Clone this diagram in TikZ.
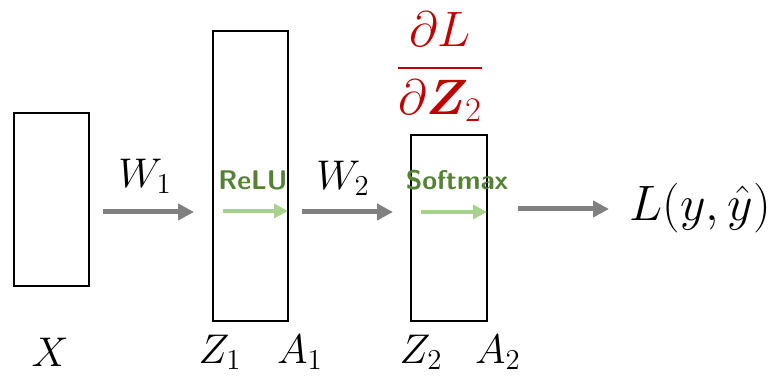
\documentclass[tikz,border=0pt]{standalone}
\usepackage{amsmath}
\usepackage{bm}
\usetikzlibrary{arrows.meta}
\definecolor{gradred}{RGB}{192,0,0}
\definecolor{actgreen}{RGB}{84,130,53}
\definecolor{lightgreen}{RGB}{169,209,142}
\definecolor{arrowgray}{RGB}{128,128,128}
\begin{document}
\begin{tikzpicture}[x=0.5pt,y=-0.5pt,
  layer/.style={draw=black,line width=1pt},
  flow/.style={draw=arrowgray,line width=2.5pt,-{Triangle[length=8pt,width=8pt]}},
  act/.style={draw=lightgreen,line width=2pt,-{Triangle[length=7pt,width=7pt]}},
  mathlbl/.style={inner sep=0pt,font=\fontsize{21}{25}\selectfont},
  actlbl/.style={inner sep=0pt,text=actgreen,font=\sffamily\bfseries\fontsize{13.5}{16}\selectfont}]
\useasboundingbox (0,0) rectangle (771,378);
% boxes
\draw[layer] (14,113) rectangle (89,286);
\draw[layer] (213,31) rectangle (288,321);
\draw[layer] (411,135) rectangle (487,321);
% coordinates for arrows
\coordinate (a1s) at (103,212); \coordinate (a1e) at (194,212);
\coordinate (a2s) at (302,212); \coordinate (a2e) at (393,212);
\coordinate (a3s) at (518,209); \coordinate (a3e) at (609,209);
\coordinate (g1s) at (223,211); \coordinate (g1e) at (288,211);
\coordinate (g2s) at (421,212); \coordinate (g2e) at (487,212);
\draw[flow] (a1s) -- (a1e);
\draw[flow] (a2s) -- (a2e);
\draw[flow] (a3s) -- (a3e);
\draw[act] (g1s) -- (g1e);
\draw[act] (g2s) -- (g2e);
% labels
\node[mathlbl] (w1) at (145,176) {$W_1$};
\node[mathlbl] (w2) at (343,178) {$W_2$};
\node[actlbl] (relu) at (253,180) {ReLU};
\node[actlbl] (softmax) at (457,180) {Softmax};
\node[mathlbl] (x) at (50,352) {$X$};
\node[mathlbl] (z1) at (220,352) {$Z_1$};
\node[mathlbl] (a1) at (300,352) {$A_1$};
\node[mathlbl] (z2) at (421,352) {$Z_2$};
\node[mathlbl] (a2) at (498,352) {$A_2$};
\node[mathlbl,font=\fontsize{23.5}{28}\selectfont] (loss) at (700,208) {$L(y,\hat{y})$};
\node[mathlbl,text=gradred,font=\fontsize{25}{30}\selectfont] (grad) at (440,67) {$\dfrac{\partial L}{\partial \bm{Z}_2}$};
\end{tikzpicture}
\end{document}
